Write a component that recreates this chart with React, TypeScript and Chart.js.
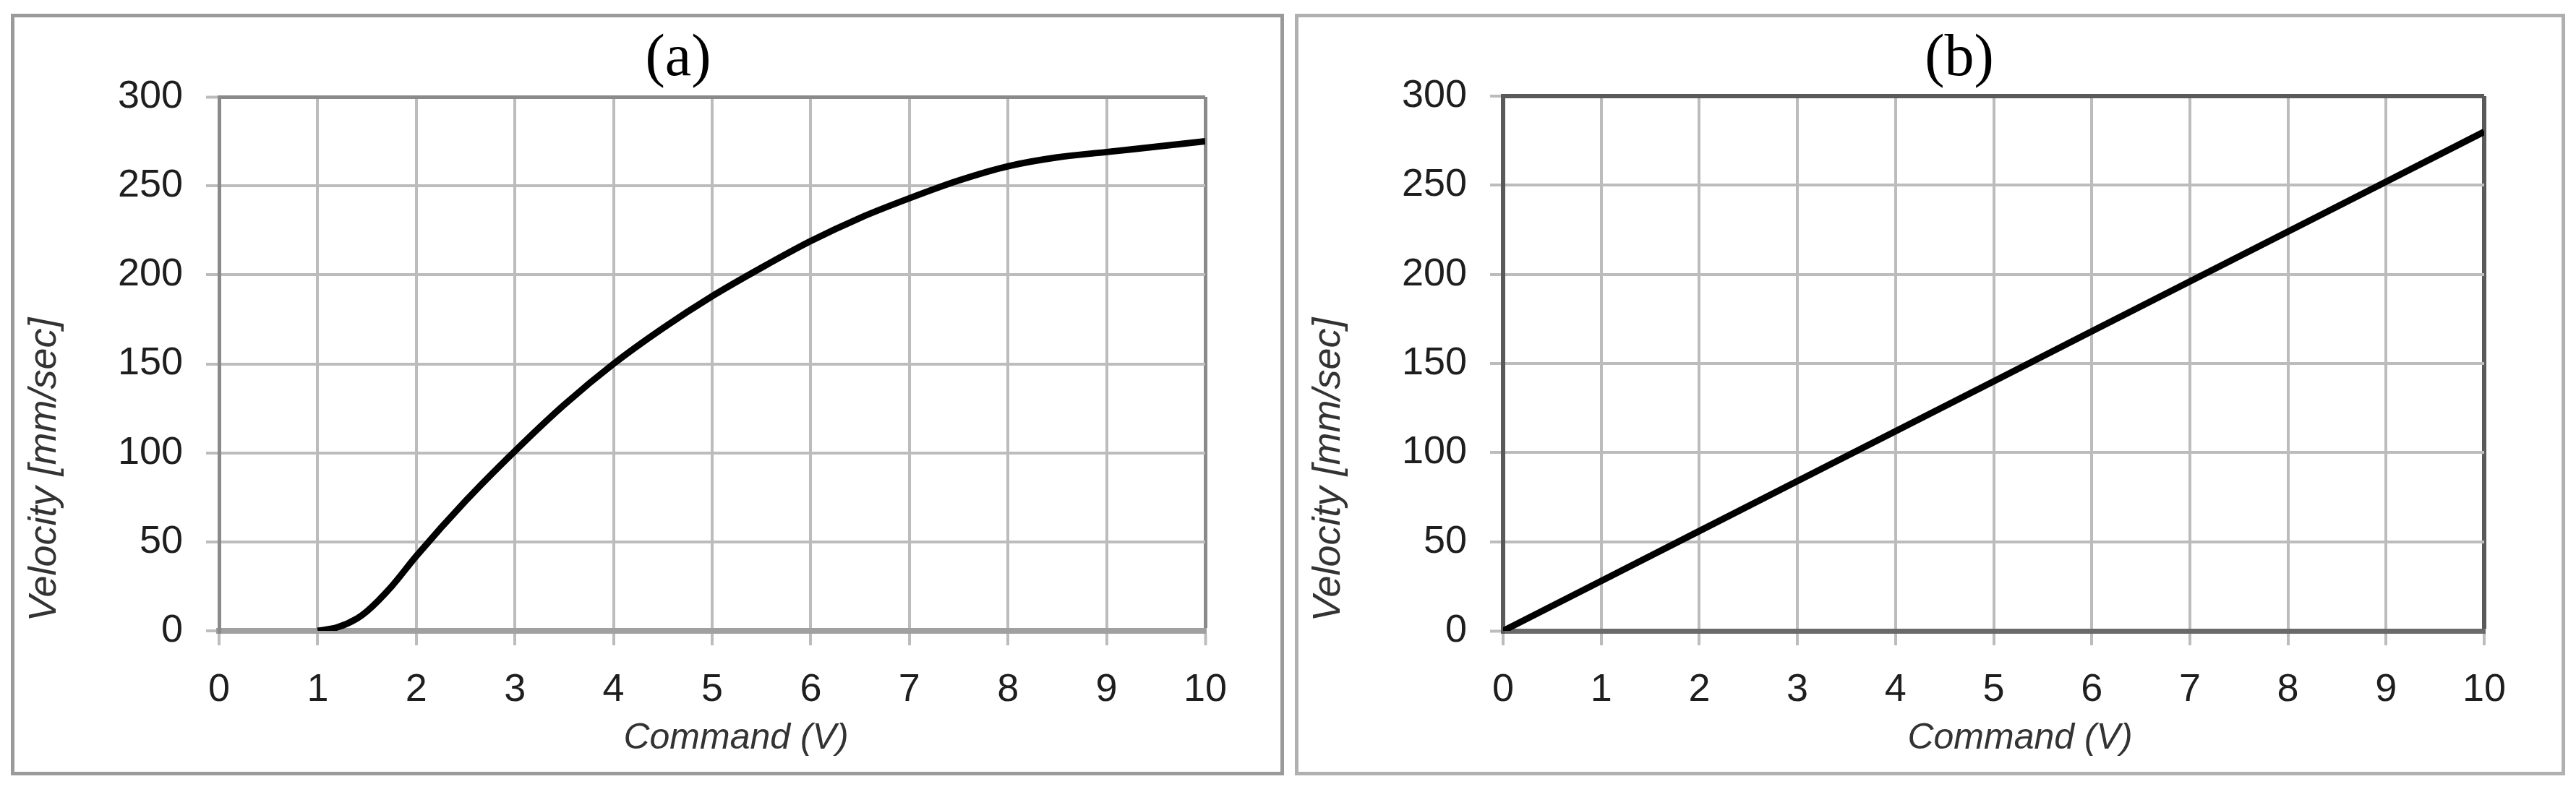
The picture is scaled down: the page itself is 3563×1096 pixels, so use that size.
import React, { useEffect, useRef } from "react";
import { Chart, registerables } from "chart.js";

Chart.register(...registerables);

// ---- data ----
const commandA = [1, 1.2, 1.4, 1.5, 1.75, 2, 2.5, 3, 3.5, 4, 4.5, 5, 5.5, 6, 6.5, 7, 7.5, 8, 8.5, 9, 9.5, 10];
const velocityA = [0, 2, 7, 11, 25, 42, 73, 101, 127, 150, 170, 188, 204, 219, 232, 243, 253, 261, 266, 269, 272, 275];

const commandB = [0, 1, 2, 3, 4, 5, 6, 7, 8, 9, 10];
const velocityB = [0, 28, 56, 84, 112, 140, 168, 196, 224, 252, 280];

const xTicks = [0, 1, 2, 3, 4, 5, 6, 7, 8, 9, 10];
const yTicks = [0, 50, 100, 150, 200, 250, 300];

const titleA = "(a)";
const titleB = "(b)";
const xAxisTitle = "Command (V)";
const yAxisTitle = "Velocity [mm/sec]";

const panelText = {
  id: "panelText",
  afterDraw(chart: any, _args: any, opts: any) {
    const ctx = chart.ctx;
    (opts.items || []).forEach((it: any) => {
      ctx.save();
      ctx.font = it.font;
      ctx.fillStyle = it.color;
      ctx.textAlign = "center";
      ctx.textBaseline = "middle";
      ctx.translate(it.x, it.y);
      if (it.rotate) ctx.rotate(it.rotate);
      ctx.fillText(it.text, 0, 0);
      ctx.restore();
    });
  },
};

type PanelCfg = {
  xs: number[];
  ys: number[];
  title: string;
  titleX: number;
  frame: string;
  frameW: number;
  axisX: string;
  axisXW: number;
  monotone: boolean;
  padRight: number;
  padTop: number;
};

function buildChart(canvas: HTMLCanvasElement, cfg: PanelCfg) {
  const gridColor = "#bcbcbc";
  const data = cfg.xs.map((x, i) => ({ x, y: cfg.ys[i] }));
  return new Chart(canvas, {
    type: "line",
    data: {
      datasets: [
        {
          data,
          borderColor: "#000000",
          borderWidth: 9,
          pointRadius: 0,
          fill: false,
          tension: cfg.monotone ? 0.4 : 0,
          cubicInterpolationMode: cfg.monotone ? "monotone" : "default",
        } as any,
      ],
    },
    options: {
      animation: false,
      responsive: false,
      layout: { padding: { top: cfg.padTop, right: cfg.padRight, left: 0, bottom: 0 } },
      plugins: {
        legend: { display: false },
        tooltip: { enabled: false },
        panelText: {
          items: [
            { text: cfg.title, x: cfg.titleX, y: 58, font: "82px 'Liberation Serif'", color: "#000" },
            { text: xAxisTitle, x: 998, y: 998, font: "italic 50px 'Liberation Sans'", color: "#333" },
            { text: yAxisTitle, x: 42, y: 626, font: "italic 54px 'Liberation Sans'", color: "#333", rotate: -Math.PI / 2 },
          ],
        },
      } as any,
      scales: {
        x: {
          type: "linear",
          min: xTicks[0],
          max: xTicks[xTicks.length - 1],
          afterBuildTicks: (s: any) => {
            s.ticks = xTicks.map((v) => ({ value: v }));
          },
          afterFit: (s: any) => {
            s.height = 195;
          },
          ticks: {
            stepSize: 1,
            color: "#1e1e1e",
            padding: 30,
            maxRotation: 0,
            font: { family: "'Liberation Sans'", size: 54 },
          },
          grid: {
            color: (c: any) => (c.tick && c.tick.value === 10 ? cfg.frame : gridColor),
            lineWidth: (c: any) => (c.tick && c.tick.value === 10 ? cfg.frameW : 4),
            tickLength: 20,
            tickColor: gridColor,
            tickWidth: 4,
          },
          border: { display: true, color: cfg.axisX, width: cfg.axisXW },
        },
        y: {
          type: "linear",
          min: yTicks[0],
          max: yTicks[yTicks.length - 1],
          afterBuildTicks: (s: any) => {
            s.ticks = yTicks.map((v) => ({ value: v }));
          },
          afterFit: (s: any) => {
            s.width = 283;
          },
          ticks: {
            stepSize: 50,
            color: "#1e1e1e",
            padding: 32,
            font: { family: "'Liberation Sans'", size: 54 },
          },
          grid: {
            color: (c: any) => (c.tick && c.tick.value === 300 ? cfg.frame : c.tick && c.tick.value === 0 ? cfg.axisX : gridColor),
            lineWidth: (c: any) => (c.tick && c.tick.value === 300 ? cfg.frameW : c.tick && c.tick.value === 0 ? cfg.axisXW : 4),
            tickLength: 18,
            tickColor: gridColor,
            tickWidth: 4,
          },
          border: { display: true, color: cfg.frame, width: cfg.frameW },
        },
      },
    } as any,
    plugins: [panelText as any],
  });
}

function Panel(props: { left: number; width: number; border: string; cfg: PanelCfg }) {
  const ref = useRef<HTMLCanvasElement | null>(null);
  const innerW = props.width - 10;
  const innerH = 1054 - 10;
  useEffect(() => {
    if (!ref.current) return;
    const chart = buildChart(ref.current, props.cfg);
    return () => chart.destroy();
  }, []);
  return (
    <div
      style={{
        position: "fixed",
        left: props.left,
        top: 19,
        width: props.width,
        height: 1054,
        border: `5px solid ${props.border}`,
        boxSizing: "border-box",
        background: "#fff",
      }}
    >
      <canvas ref={ref} width={innerW} height={innerH} style={{ display: "block", width: innerW, height: innerH }} />
    </div>
  );
}

export default function App() {
  return (
    <div style={{ position: "fixed", left: 0, top: 0, width: 3563, height: 1096, background: "#fff" }}>
      <Panel
        left={15}
        width={1761}
        border="#9a9a9a"
        cfg={{
          xs: commandA,
          ys: velocityA,
          title: titleA,
          titleX: 918,
          frame: "#8a8a8a",
          frameW: 5,
          axisX: "#a0a0a0",
          axisXW: 8,
          monotone: true,
          padRight: 104,
          padTop: 110,
        }}
      />
      <Panel
        left={1791}
        width={1757}
        border="#b0b0b0"
        cfg={{
          xs: commandB,
          ys: velocityB,
          title: titleB,
          titleX: 914,
          frame: "#5a5a5a",
          frameW: 6,
          axisX: "#6a6a6a",
          axisXW: 7,
          monotone: false,
          padRight: 107,
          padTop: 109,
        }}
      />
    </div>
  );
}
